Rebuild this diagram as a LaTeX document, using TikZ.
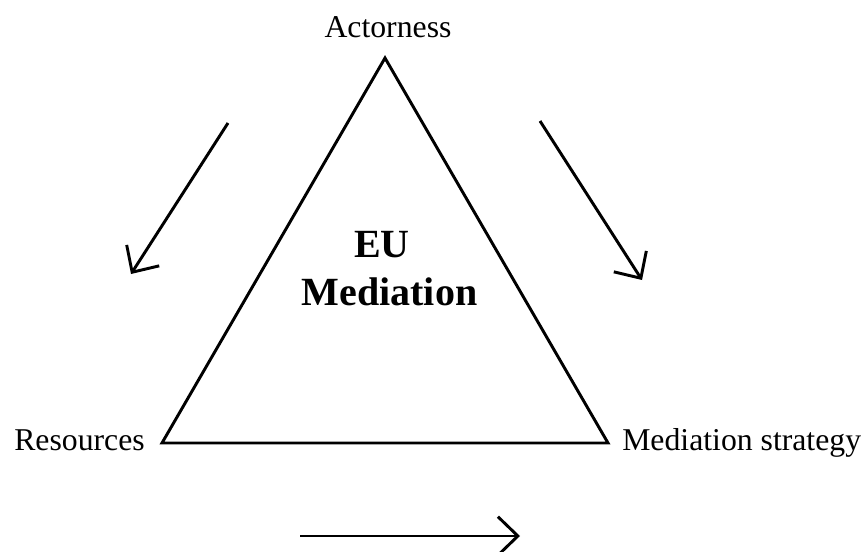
\documentclass[tikz,border=0pt]{standalone}
\usepackage{fontspec}
\setmainfont{Liberation Serif}
\usetikzlibrary{arrows.meta}
\begin{document}
\begin{tikzpicture}[x=0.75pt,y=-0.75pt,
  edge/.style={line width=2.2pt},
  flow/.style={line width=2.2pt,-{Straight Barb[length=15pt,width=29pt,line width=2.2pt]}},
  lbl/.style={font=\fontsize{23.8}{26}\selectfont,inner sep=0pt},
  title/.style={font=\fontsize{30}{36}\selectfont\bfseries,inner sep=0pt,anchor=base}]
\useasboundingbox (0,0) rectangle (866,552);
\coordinate (A) at (385,58);
\coordinate (R) at (162,443);
\coordinate (M) at (608,443);
\draw[edge,line join=miter] (A) -- (R) -- (M) -- cycle;
\node[lbl,anchor=base] (actorness) at (388,38) {Actorness};
\node[lbl,anchor=base east] (resources) at (145,450) {Resources};
\node[lbl,anchor=base west] (strategy) at (622,450) {Mediation strategy};
\node[title] (eu) at (382,257) {EU};
\node[title] (med) at (389.5,305) {Mediation};
\coordinate (l1) at (228,123); \coordinate (l2) at (131,274);
\coordinate (r1) at (540,121); \coordinate (r2) at (642,280);
\coordinate (b1) at (300,536); \coordinate (b2) at (520,536);
\draw[flow] (l1) -- (l2);
\draw[flow] (r1) -- (r2);
\draw[flow] (b1) -- (b2);
\end{tikzpicture}
\end{document}
